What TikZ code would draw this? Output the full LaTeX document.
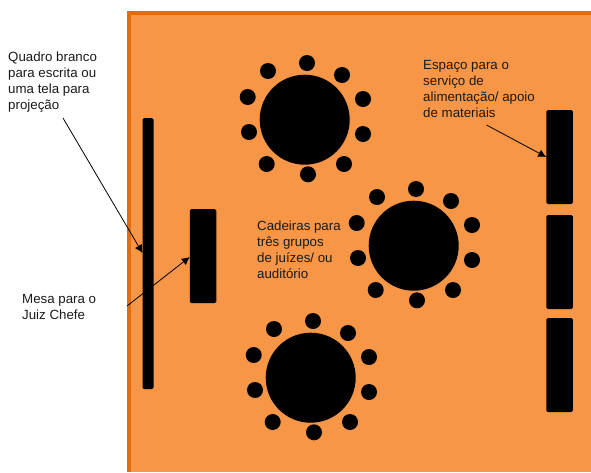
\documentclass[tikz,border=0pt]{standalone}
\usepackage{fontspec}
\usetikzlibrary{arrows.meta}
\setmainfont{Liberation Sans}
\definecolor{roomfill}{HTML}{F79646}
\definecolor{roomline}{HTML}{E46C0A}
\definecolor{labeltext}{HTML}{1A1A1A}
\begin{document}
\begin{tikzpicture}[x=1pt, y=-1pt,
        furniture/.style={fill=black, rounded corners=1.5pt, inner sep=0pt, outer sep=0pt},
        round_table/.style={circle, fill=black, minimum size=90pt, inner sep=0pt},
        chair/.style={circle, fill=black, minimum size=16pt, inner sep=0pt},
        label_text/.style={align=left, anchor=north west, inner sep=0pt, text=labeltext, font=\fontsize{13.3}{16}\selectfont},
        pointer/.style={-{Latex[length=8pt, width=8pt]}, line width=0.8pt}]
            \useasboundingbox (0,0) rectangle (591,472);
            \fill[roomfill] (129,13) rectangle (591,472);
            \draw[roomline, line width=4pt] (129,472) -- (129,13) -- (591,13);
            \node[furniture, minimum width=11pt, minimum height=271pt] (whiteboard) at (148,253.5) {};
            \node[furniture, minimum width=26.5pt, minimum height=94pt] (chief_table) at (203,256) {};
            \node[furniture, minimum width=26.5pt, minimum height=94pt] (service_a) at (559.5,157) {};
            \node[furniture, minimum width=26.5pt, minimum height=94pt] (service_b) at (559.5,262) {};
            \node[furniture, minimum width=26.5pt, minimum height=94pt] (service_c) at (559.5,365) {};
            \foreach \name/\cx/\cy in {top/304.7/119.7, middle/413.7/245.7, bottom/310.7/377.7} {
                \node[round_table] (table_\name) at (\cx,\cy) {};
                \foreach \dx/\dy [count=\i] in {2.3/-56.7, 37.3/-44.7, 58.3/-20.7, 58.3/14.3, 39.3/44.3, 3.3/54.6, -38/44.3, -55.7/12.3, -57/-22.7, -36.7/-48.7}
                    \node[chair] (chair_\name_\i) at (\cx+\dx,\cy+\dy) {};
            }
            \node[label_text] (whiteboard_label) at (8,52) {Quadro branco \\ para escrita ou \\ uma tela para \\ projeção};
            \node[label_text] (chief_label) at (22,294) {Mesa para o \\ Juiz Chefe};
            \node[label_text] (chairs_label) at (257,221) {Cadeiras para \\ três grupos \\ de juízes/ ou \\ auditório};
            \node[label_text] (service_label) at (423,60) {Espaço para o \\ serviço de \\ alimentação/ apoio \\ de materiais};
            \coordinate (whiteboard_start) at (63,118);
            \coordinate (chief_start) at (127,306);
            \coordinate (service_start) at (486.5,125);
            \draw[pointer] (whiteboard_start) -- (whiteboard.west |- 0,253);
            \draw[pointer] (chief_start) -- (chief_table.west |- 0,257);
            \draw[pointer] (service_start) -- (service_a.west |- 0,157);
        \end{tikzpicture}
\end{document}
